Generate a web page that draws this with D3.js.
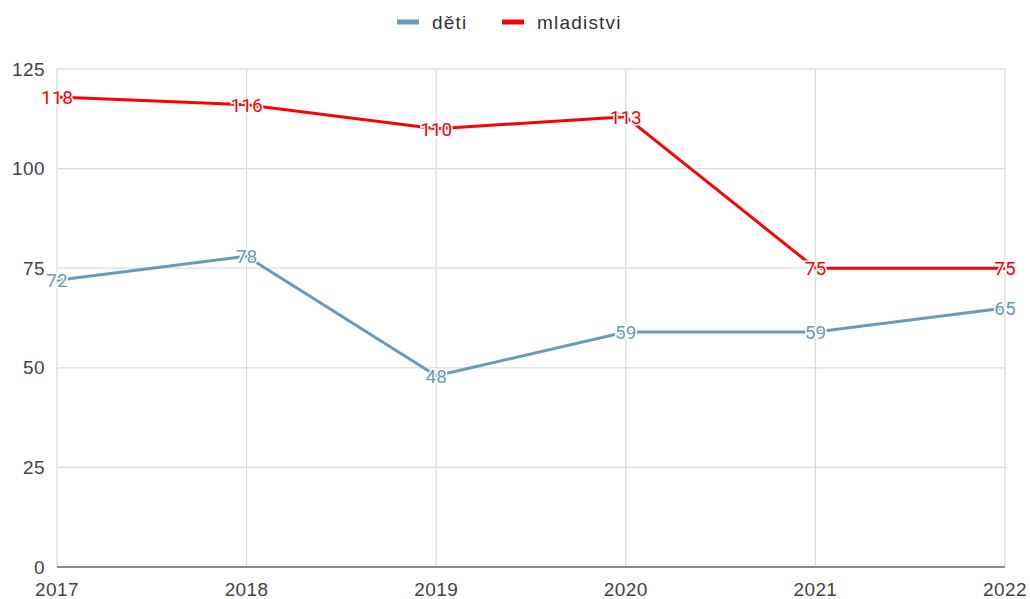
<!DOCTYPE html>
<html>
<head>
<meta charset="utf-8">
<script src="https://cdn.jsdelivr.net/npm/d3@7"></script>
<style>
  body { margin: 0; background: #fff; }
  svg { display: block; }
</style>
</head>
<body>
<div id="chart"></div>
<script>
const years = [2017, 2018, 2019, 2020, 2021, 2022];
const deti = [72, 78, 48, 59, 59, 65];
const mladistvi = [118, 116, 110, 113, 75, 75];
const yTicks = [0, 25, 50, 75, 100, 125];

const series = [
  { name: 'děti', color: '#6a9bb6', values: deti },
  { name: 'mladistvi', color: '#ff0000', values: mladistvi }
];

const width = 1030;
const height = 599;
const margin = { left: 57, top: 69, right: 25, bottom: 32 };

const svg = d3.select('#chart')
  .append('svg')
  .attr('width', width)
  .attr('height', height);

const x = d3.scalePoint()
  .domain(years)
  .range([margin.left, width - margin.right]);

const y = d3.scaleLinear()
  .domain([0, 125])
  .range([height - margin.bottom, margin.top]);

// grid
svg.append('g')
  .selectAll('line')
  .data(yTicks)
  .enter()
    .append('line')
    .attr('x1', margin.left)
    .attr('x2', width - margin.right)
    .attr('y1', (d) => y(d))
    .attr('y2', (d) => y(d))
    .attr('stroke', '#dcdcdc')
    .attr('stroke-width', 1.3);

svg.append('g')
  .selectAll('line')
  .data(years)
  .enter()
    .append('line')
    .attr('x1', (d) => x(d))
    .attr('x2', (d) => x(d))
    .attr('y1', margin.top)
    .attr('y2', height - margin.bottom)
    .attr('stroke', '#dcdcdc')
    .attr('stroke-width', 1.3);

// baseline
svg.append('line')
  .attr('x1', margin.left)
  .attr('x2', width - margin.right)
  .attr('y1', y(0))
  .attr('y2', y(0))
  .attr('stroke', '#8a8a8a')
  .attr('stroke-width', 2);

const axisFont = '"Liberation Sans", Arial, sans-serif';

svg.append('g')
  .selectAll('text')
  .data(yTicks)
  .enter()
    .append('text')
    .attr('x', margin.left - 12)
    .attr('y', (d) => y(d))
    .attr('dy', '0.35em')
    .attr('text-anchor', 'end')
    .attr('font-family', axisFont)
    .attr('font-size', 19)
    .attr('letter-spacing', 0.4)
    .attr('fill', '#444')
    .text((d) => d);

svg.append('g')
  .selectAll('text')
  .data(years)
  .enter()
    .append('text')
    .attr('x', (d) => x(d))
    .attr('y', height - margin.bottom + 29)
    .attr('text-anchor', 'middle')
    .attr('font-family', axisFont)
    .attr('font-size', 19)
    .attr('letter-spacing', 0.4)
    .attr('fill', '#444')
    .text((d) => d);

const line = d3.line()
  .x((d, i) => x(years[i]))
  .y((d) => y(d));

svg.append('g')
  .selectAll('path')
  .data(series)
  .enter()
    .append('path')
    .attr('fill', 'none')
    .attr('stroke', (d) => d.color)
    .attr('stroke-width', 3)
    .attr('stroke-linejoin', 'round')
    .attr('d', (d) => line(d.values));

// data labels
series.forEach((s) => {
  svg.append('g')
    .selectAll('text')
    .data(s.values)
    .enter()
      .append('text')
      .attr('x', (d, i) => x(years[i]))
      .attr('y', (d) => y(d))
      .attr('dy', '0.36em')
      .attr('text-anchor', 'middle')
      .attr('font-family', 'Roboto, sans-serif')
      .attr('font-size', 19)
      .attr('fill', s.color)
      .attr('stroke', '#fff')
      .attr('stroke-width', 3)
      .attr('paint-order', 'stroke')
      .text((d) => d);
});

// legend
const legend = svg.append('g')
  .attr('transform', 'translate(397, 22)');

const legendItems = legend.selectAll('g')
  .data(series)
  .enter()
    .append('g')
    .attr('transform', (d, i) => `translate(${i * 105},0)`);

legendItems.append('line')
  .attr('x1', 0)
  .attr('x2', 22)
  .attr('stroke', (d) => d.color)
  .attr('stroke-width', 5);

legendItems.append('text')
  .attr('x', 35)
  .attr('dy', '0.35em')
  .attr('font-family', axisFont)
  .attr('font-size', 19)
  .attr('letter-spacing', 1.2)
  .attr('fill', '#333')
  .text((d) => d.name);
</script>
</body>
</html>
